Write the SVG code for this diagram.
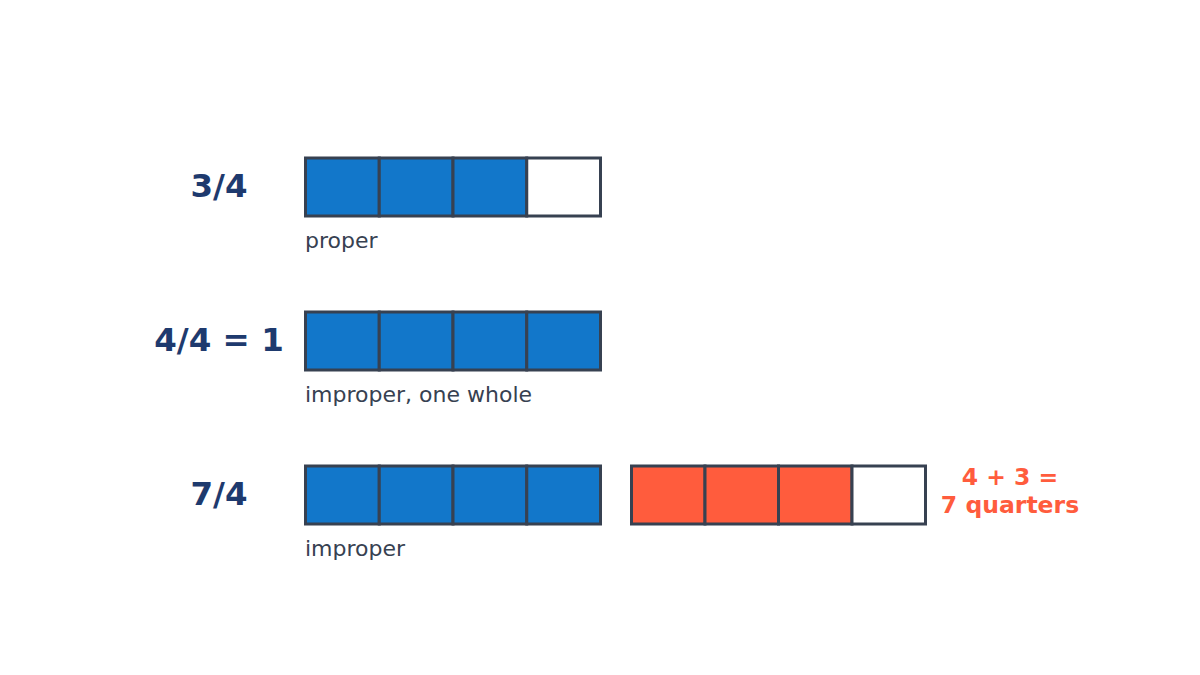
<svg xmlns="http://www.w3.org/2000/svg" width="1200" height="675" viewBox="0 0 1200 675">
<style>
.bg{fill:#ffffff}
.cell{stroke:#374151;stroke-width:3}
.b{fill:#1277ca}
.o{fill:#ff5c3d}
.w{fill:#ffffff}
.title{font-family:"DejaVu Sans",sans-serif;font-weight:bold;font-size:32.5px;fill:#1e3a6e;text-anchor:middle}
.lbl{font-family:"DejaVu Sans",sans-serif;font-size:22px;fill:#374151}
.note{font-family:"DejaVu Sans",sans-serif;font-weight:bold;font-size:23.5px;fill:#ff5c3d;text-anchor:middle}
</style>
<rect class="bg" x="0" y="0" width="1200" height="675"/>
<g id="row-3-4">
<text class="title" x="219" y="197">3/4</text>
<rect class="cell b" x="305.5" y="158" width="73.75" height="58"/>
<rect class="cell b" x="379.25" y="158" width="73.75" height="58"/>
<rect class="cell b" x="453" y="158" width="73.75" height="58"/>
<rect class="cell w" x="526.75" y="158" width="73.75" height="58"/>
<text class="lbl" x="305" y="248">proper</text>
</g>
<g id="row-4-4">
<text class="title" x="219" y="351">4/4 = 1</text>
<rect class="cell b" x="305.5" y="312" width="73.75" height="58"/>
<rect class="cell b" x="379.25" y="312" width="73.75" height="58"/>
<rect class="cell b" x="453" y="312" width="73.75" height="58"/>
<rect class="cell b" x="526.75" y="312" width="73.75" height="58"/>
<text class="lbl" x="305" y="402">improper, one whole</text>
</g>
<g id="row-7-4">
<text class="title" x="219" y="505">7/4</text>
<rect class="cell b" x="305.5" y="466" width="73.75" height="58"/>
<rect class="cell b" x="379.25" y="466" width="73.75" height="58"/>
<rect class="cell b" x="453" y="466" width="73.75" height="58"/>
<rect class="cell b" x="526.75" y="466" width="73.75" height="58"/>
<text class="lbl" x="305" y="556">improper</text>
</g>
<g id="row-7-4-extra">
<rect class="cell o" x="631.5" y="466" width="73.5" height="58"/>
<rect class="cell o" x="705" y="466" width="73.5" height="58"/>
<rect class="cell o" x="778.5" y="466" width="73.5" height="58"/>
<rect class="cell w" x="852" y="466" width="73.5" height="58"/>
<text class="note" x="1010" y="485">4 + 3 =</text>
<text class="note" x="1010" y="513">7 quarters</text>
</g>
<g id="connectors"></g>
</svg>
